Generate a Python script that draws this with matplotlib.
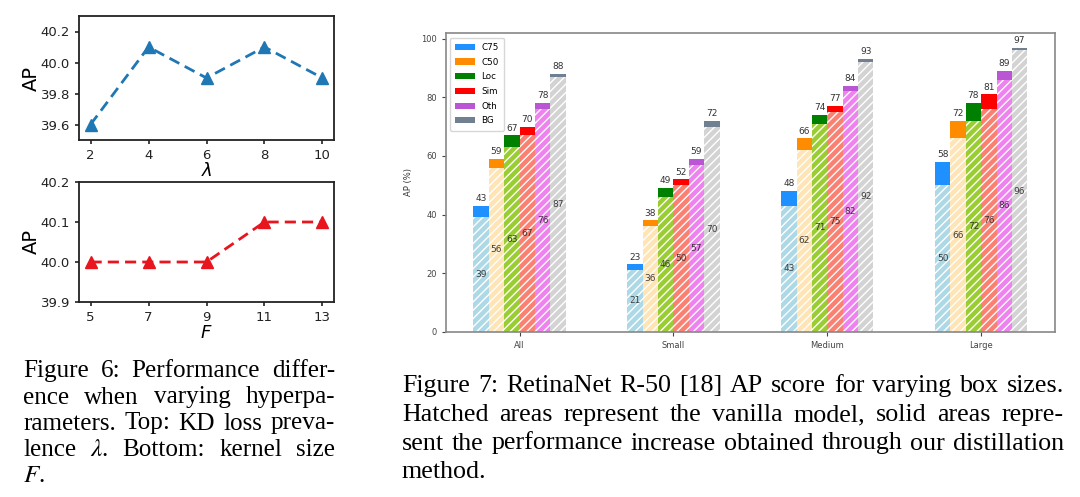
import numpy as np
import matplotlib
matplotlib.use("Agg")
import matplotlib.pyplot as plt

# ---------------- data ----------------
lambdas = [2, 4, 6, 8, 10]
ap_lambda = [39.6, 40.1, 39.9, 40.1, 39.9]
kernels = [5, 7, 9, 11, 13]
ap_kernel = [40.0, 40.0, 40.0, 40.1, 40.1]

box_sizes = ["All", "Small", "Medium", "Large"]
metrics = ["C75", "C50", "Loc", "Sim", "Oth", "BG"]
vanilla_c75 = [39, 21, 43, 50]
vanilla_c50 = [56, 36, 62, 66]
vanilla_loc = [63, 46, 71, 72]
vanilla_sim = [67, 50, 75, 76]
vanilla_oth = [76, 57, 82, 86]
vanilla_bg = [87, 70, 92, 96]
distill_c75 = [43, 23, 48, 58]
distill_c50 = [59, 38, 66, 72]
distill_loc = [67, 49, 74, 78]
distill_sim = [70, 52, 77, 81]
distill_oth = [78, 59, 84, 89]
distill_bg = [88, 72, 93, 97]

vanilla = [vanilla_c75, vanilla_c50, vanilla_loc, vanilla_sim, vanilla_oth, vanilla_bg]
distill = [distill_c75, distill_c50, distill_loc, distill_sim, distill_oth, distill_bg]

solid_colors = ["#1E90FF", "#FF8C00", "#008000", "#FF0000", "#BA55D3", "#708090"]
light_colors = ["#ADD8E6", "#FFE4B5", "#9ACD32", "#FA8072", "#EE82EE", "#D3D3D3"]

caption6 = ["Figure 6: Performance differ-",
            "ence when varying hyperpa-",
            "rameters. Top: KD loss preva-",
            r"lence $\lambda$. Bottom: kernel size",
            r"$F$."]
caption7 = ["Figure 7: RetinaNet R-50 [18] AP score for varying box sizes.",
            "Hatched areas represent the vanilla model, solid areas repre-",
            "sent the performance increase obtained through our distillation",
            "method."]

# ---------------- figure ----------------
W, H = 1080, 497
fig = plt.figure(figsize=(W / 100, H / 100), dpi=100)


def axes_px(left, top, right, bottom):
    return fig.add_axes([left / W, 1 - bottom / H, (right - left) / W, (bottom - top) / H])


def style_small(ax):
    for s in ax.spines.values():
        s.set_linewidth(1.3)
        s.set_color("#222222")
    ax.tick_params(labelsize=9.5, width=1.2, length=3, colors="#222222")


# top-left: lambda
ax1 = axes_px(79, 16, 334, 140)
ax1.plot(lambdas, ap_lambda, linestyle="--", marker="^", color="#1f77b4",
         linewidth=2, markersize=8, dashes=(4, 2.2))
ax1.set_ylim(39.5, 40.3)
ax1.set_yticks([39.6, 39.8, 40.0, 40.2])
ax1.set_xticks(lambdas)
ax1.set_ylabel("AP", fontsize=14, labelpad=0)
ax1.set_xlabel(r"$\lambda$", fontsize=13, labelpad=0)
style_small(ax1)

# bottom-left: kernel size
ax2 = axes_px(79, 182, 334, 302)
ax2.plot(kernels, ap_kernel, linestyle="--", marker="^", color="#e8141e",
         linewidth=2, markersize=8, dashes=(4, 2.2))
ax2.set_ylim(39.9, 40.2)
ax2.set_yticks([39.9, 40.0, 40.1, 40.2])
ax2.set_xticks(kernels)
ax2.set_ylabel("AP", fontsize=14, labelpad=0)
ax2.set_xlabel(r"$F$", fontsize=13, labelpad=0)
style_small(ax2)

# right: bar chart
ax3 = axes_px(445.7, 33.3, 1055, 331.7)
x = np.arange(len(box_sizes))
width = 0.1
plt.rcParams["hatch.linewidth"] = 1.0
for i, m in enumerate(metrics):
    off = (i - 2.5) * width
    v = np.array(vanilla[i])
    d = np.array(distill[i])
    ax3.bar(x + off, v, width, color=light_colors[i], edgecolor="white",
            hatch="////", linewidth=0)
    ax3.bar(x + off, d - v, width, bottom=v, color=solid_colors[i],
            linewidth=0, label=m)
    for xi, vi, di in zip(x + off, v, d):
        ax3.text(xi, vi / 2, f"{vi}", ha="center", va="center", fontsize=6.5,
                 color="#222222", alpha=0.85)
        ax3.annotate(f"{di}", (xi, di), xytext=(0, 2), textcoords="offset points",
                     ha="center", va="bottom", fontsize=6.5, color="#333333")
ax3.set_xticks(x)
ax3.set_xticklabels(box_sizes)
ax3.set_ylabel("AP (%)", fontsize=6, color="#333333", labelpad=6)
ax3.tick_params(labelsize=6, colors="#444444", length=3)
for s in ax3.spines.values():
    s.set_color("#888888")
    s.set_linewidth(1.2)
ax3.legend(loc="upper left", fontsize=6.3, frameon=True, edgecolor="#cccccc",
           labelspacing=0.65, handlelength=2.2, borderpad=0.6)

# ---------------- captions (justified) ----------------
renderer = fig.canvas.get_renderer()
SERIF = "Liberation Serif"


def fit_size(lines, target, fill):
    widths = []
    for line in lines[:-1]:
        t = fig.text(0, 0, line, fontsize=10, family=SERIF, math_fontfamily="stix")
        widths.append(t.get_window_extent(renderer).width)
        t.remove()
    return 10 * target * fill / max(widths)


def place_caption(lines, x0, x1, baselines, fill):
    target = x1 - x0
    fontsize = fit_size(lines, target, fill)
    for li, (line, yb) in enumerate(zip(lines, baselines)):
        yf = 1 - yb / H
        if li == len(lines) - 1:
            fig.text(x0 / W, yf, line, fontsize=fontsize, family=SERIF,
                     math_fontfamily="stix", ha="left", va="baseline")
            continue
        words = line.split(" ")
        texts = [fig.text(0, yf, w, fontsize=fontsize, family=SERIF,
                          math_fontfamily="stix", ha="left", va="baseline")
                 for w in words]
        widths = [t.get_window_extent(renderer).width for t in texts]
        gap = (target - sum(widths)) / (len(words) - 1)
        xpos = x0
        for t, wd in zip(texts, widths):
            t.set_x(xpos / W)
            xpos += wd + gap


place_caption(caption6, 23, 335, [377, 403.5, 429.5, 455.5, 481.5], 0.97)
place_caption(caption7, 402, 1064, [392, 421, 449.5, 478], 0.985)

fig.savefig("out.png", dpi=100)
